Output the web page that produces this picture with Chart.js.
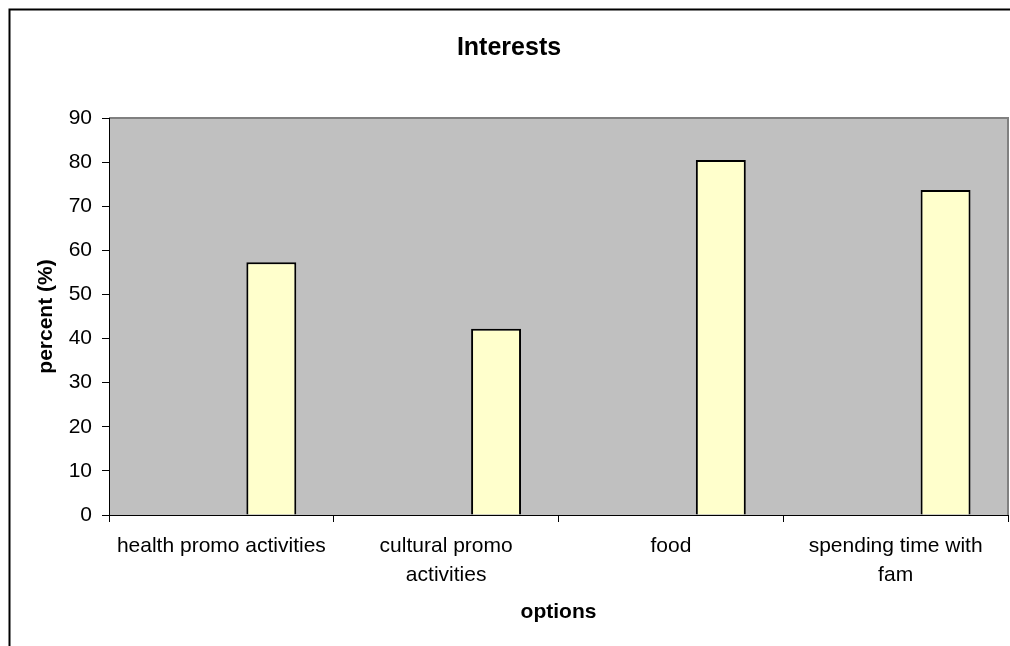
<!DOCTYPE html>
<html>
<head>
<meta charset="utf-8">
<title>Interests</title>
<script src="https://cdn.jsdelivr.net/npm/chart.js@4"></script>
<style>
    body { margin: 0; background: #fff; }
    #contenedor { width: 1010px; height: 646px; position: relative; }
</style>
</head>
<body>
<div id="contenedor"><canvas id="interesesChart"></canvas></div>
<script>
const categorias = [
    'health promo activities',
    ['cultural promo', 'activities'],
    'food',
    ['spending time with', 'fam']
];
const porcentajes = [57.3, 42.2, 80.5, 73.7];
// las dos primeras series de la hoja estan vacias, por eso la barra queda a la derecha
const serieVacia = [null, null, null, null];
const marcasY = [0, 10, 20, 30, 40, 50, 60, 70, 80, 90];

document.addEventListener('DOMContentLoaded', function() {
    inicializarGrafico();
});

// fondo gris del area de trazado y marco exterior del grafico
const fondoGrafico = {
    id: 'fondoGrafico',
    beforeDraw(chart) {
        const { ctx, chartArea: a } = chart;
        ctx.save();
        ctx.fillStyle = '#C0C0C0';
        ctx.fillRect(a.left, a.top, a.right - a.left, a.bottom - a.top);
        ctx.strokeStyle = '#808080';
        ctx.lineWidth = 2;
        ctx.beginPath();
        ctx.moveTo(a.left, a.top);
        ctx.lineTo(a.right, a.top);
        ctx.lineTo(a.right, a.bottom);
        ctx.stroke();
        ctx.restore();
    },
    afterDraw(chart) {
        const ctx = chart.ctx;
        ctx.save();
        ctx.strokeStyle = '#000';
        ctx.lineWidth = 2;
        ctx.strokeRect(9.5, 9.5, chart.width + 20, chart.height + 20);
        ctx.restore();
    }
};

function inicializarGrafico() {
    const ctx = document.getElementById('interesesChart').getContext('2d');
    Chart.defaults.font.family = '"Liberation Sans", Arial, sans-serif';
    Chart.defaults.color = '#000';

    const barra = {
        categoryPercentage: 2 / 3,
        barPercentage: 1,
        backgroundColor: '#FFFFCC',
        borderColor: '#000',
        borderWidth: 2
    };

    new Chart(ctx, {
        type: 'bar',
        data: {
            labels: categorias,
            datasets: [
                Object.assign({ label: 'serie 1', data: serieVacia }, barra),
                Object.assign({ label: 'serie 2', data: serieVacia }, barra),
                Object.assign({ label: 'percent', data: porcentajes }, barra)
            ]
        },
        options: {
            responsive: true,
            maintainAspectRatio: false,
            animation: false,
            layout: {
                padding: { left: 10, right: 2, top: 0, bottom: 0 }
            },
            scales: {
                x: {
                    grid: {
                        drawOnChartArea: false,
                        color: '#000',
                        tickLength: 7
                    },
                    border: { color: '#000', width: 1 },
                    ticks: {
                        maxRotation: 0,
                        autoSkip: false,
                        padding: 10,
                        font: { size: 21, lineHeight: 1.38 }
                    },
                    title: {
                        display: true,
                        text: 'options',
                        font: { size: 21, weight: 'bold' },
                        padding: { top: 4, bottom: 21 }
                    },
                    afterFit: function(scale) {
                        scale.height = 131;
                    }
                },
                y: {
                    min: marcasY[0],
                    max: marcasY[marcasY.length - 1],
                    afterBuildTicks: function(scale) {
                        scale.ticks = marcasY.map(v => ({ value: v }));
                    },
                    grid: {
                        drawOnChartArea: false,
                        color: '#000',
                        tickLength: 7
                    },
                    border: { color: '#000', width: 1 },
                    ticks: {
                        padding: 10,
                        font: { size: 21 }
                    },
                    title: {
                        display: true,
                        text: 'percent (%)',
                        font: { size: 21, weight: 'bold' },
                        padding: { top: 24, bottom: 4 }
                    },
                    afterFit: function(scale) {
                        scale.width = 99;
                    }
                }
            },
            plugins: {
                legend: { display: false },
                tooltip: { enabled: false },
                title: {
                    display: true,
                    text: 'Interests',
                    font: { size: 25, weight: 'bold' },
                    padding: { top: 33, bottom: 55 }
                }
            }
        },
        plugins: [fondoGrafico]
    });
}
</script>
</body>
</html>
